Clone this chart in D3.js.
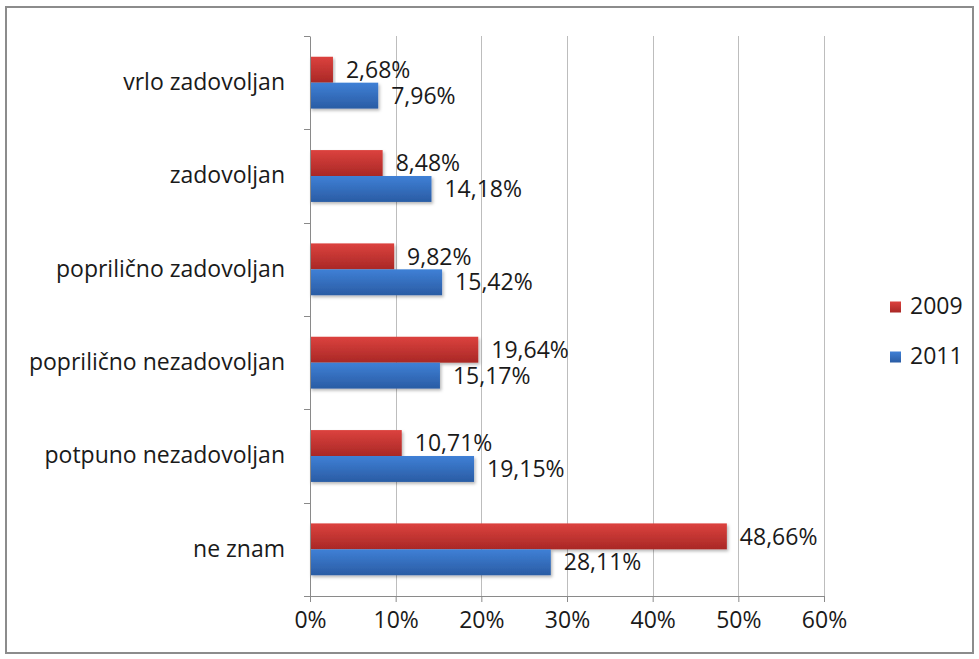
<!DOCTYPE html>
<html>
<head>
<meta charset="utf-8">
<script src="https://cdn.jsdelivr.net/npm/d3@7"></script>
<style>
  html, body { margin: 0; padding: 0; background: #fff; }
  svg { display: block; }
  text { font-family: "Open Sans", "Noto Sans", sans-serif; fill: #1a1a1a; }
</style>
</head>
<body>
<svg id="chart" width="979" height="659"></svg>
<script>
// Satisfaction survey answers, share of respondents per year
const categories = [
  "vrlo zadovoljan",
  "zadovoljan",
  "poprilično zadovoljan",
  "poprilično nezadovoljan",
  "potpuno nezadovoljan",
  "ne znam"
];
const seriesNames = ["2009", "2011"];
const values2009 = [2.68, 8.48, 9.82, 19.64, 10.71, 48.66];
const values2011 = [7.96, 14.18, 15.42, 15.17, 19.15, 28.11];
const xTicks = [0, 10, 20, 30, 40, 50, 60];
const seriesColors = { "2009": ["#dc423e", "#a92826"], "2011": ["#3f80d6", "#2a5ca4"] };

const FONT = "\"Open Sans\", \"Noto Sans\", sans-serif";
const FS = 23;

const svg = d3.select("#chart");
const W = 979, H = 659;
const plot = { left: 310, right: 824, top: 36, bottom: 596 };

// outer frame
svg.append("rect")
  .attr("x", 6).attr("y", 7)
  .attr("width", W - 12).attr("height", H - 13)
  .attr("fill", "#fff").attr("stroke", "#8c8c8c").attr("stroke-width", 2);

const defs = svg.append("defs");
seriesNames.forEach(s => {
  const g = defs.append("linearGradient").attr("id", "grad" + s)
    .attr("x1", 0).attr("y1", 0).attr("x2", 0).attr("y2", 1);
  g.append("stop").attr("offset", "0%").attr("stop-color", seriesColors[s][0]);
  g.append("stop").attr("offset", "100%").attr("stop-color", seriesColors[s][1]);
});
const shadow = defs.append("filter").attr("id", "shadow")
  .attr("x", "-5%").attr("y", "-20%").attr("width", "115%").attr("height", "160%");
shadow.append("feDropShadow").attr("dx", 1.5).attr("dy", 2).attr("stdDeviation", 1.5)
  .attr("flood-color", "#000").attr("flood-opacity", 0.28);

const x = d3.scaleLinear().domain([0, 60]).range([plot.left, plot.right]);
const y = d3.scaleBand().domain(categories).range([plot.top, plot.bottom]).paddingInner(0).paddingOuter(0);
const inner = d3.scaleBand().domain(seriesNames).range([0, y.bandwidth()]).paddingInner(0).paddingOuter(0.8);

// vertical gridlines
svg.append("g").selectAll("line").data(xTicks.slice(1)).join("line")
  .attr("x1", d => Math.round(x(d)) + 0.5).attr("x2", d => Math.round(x(d)) + 0.5)
  .attr("y1", plot.top).attr("y2", plot.bottom)
  .attr("stroke", "#bdbdbd").attr("stroke-width", 1);

// bars and value labels
const rows = categories.map((c, i) => ({ c, v: { "2009": values2009[i], "2011": values2011[i] } }));
const groups = svg.append("g").selectAll("g").data(rows).join("g")
  .attr("transform", d => `translate(0,${y(d.c)})`);
seriesNames.forEach(s => {
  groups.append("rect")
    .attr("x", x(0))
    .attr("y", inner(s))
    .attr("width", d => x(d.v[s]) - x(0))
    .attr("height", inner.bandwidth())
    .attr("fill", `url(#grad${s})`)
    .attr("filter", "url(#shadow)");
  groups.append("text")
    .attr("x", d => x(d.v[s]) + 13)
    .attr("y", inner(s) + inner.bandwidth() / 2 + 2)
    .attr("dominant-baseline", "middle")
    .attr("font-size", FS)
    .text(d => d.v[s].toFixed(2).replace(".", ",") + "%");
});

// x axis
const xAxis = d3.axisBottom(x).tickValues(xTicks).tickSize(6).tickPadding(10)
  .tickFormat(d => d + "%");
const gx = svg.append("g").attr("transform", `translate(0,${plot.bottom})`).call(xAxis);
gx.select(".domain").attr("stroke", "#8a8a8a");
gx.selectAll(".tick line").attr("stroke", "#8a8a8a");
gx.selectAll(".tick text").attr("font-size", FS).attr("fill", "#1a1a1a").attr("font-family", FONT);

// y axis, with tick marks on the category boundaries
const yAxis = d3.axisLeft(y).tickSize(0).tickPadding(25);
const gy = svg.append("g").attr("transform", `translate(${plot.left},0)`).call(yAxis);
gy.select(".domain").attr("stroke", "#8a8a8a");
gy.selectAll(".tick text").attr("font-size", FS).attr("fill", "#1a1a1a").attr("font-family", FONT);
svg.append("g").selectAll("line").data(d3.range(categories.length + 1)).join("line")
  .attr("x1", plot.left - 6).attr("x2", plot.left)
  .attr("y1", i => Math.round(plot.top + i * y.step()) + 0.5)
  .attr("y2", i => Math.round(plot.top + i * y.step()) + 0.5)
  .attr("stroke", "#8a8a8a");

// legend
const legend = svg.append("g").attr("transform", "translate(890,307)");
seriesNames.forEach((s, i) => {
  const g = legend.append("g").attr("transform", `translate(0,${i * 50})`);
  g.append("rect").attr("x", 0).attr("y", -5.5).attr("width", 11).attr("height", 11)
    .attr("fill", `url(#grad${s})`);
  g.append("text").attr("x", 20).attr("y", 1).attr("dominant-baseline", "middle")
    .attr("font-size", FS).text(s);
});
</script>
</body>
</html>
